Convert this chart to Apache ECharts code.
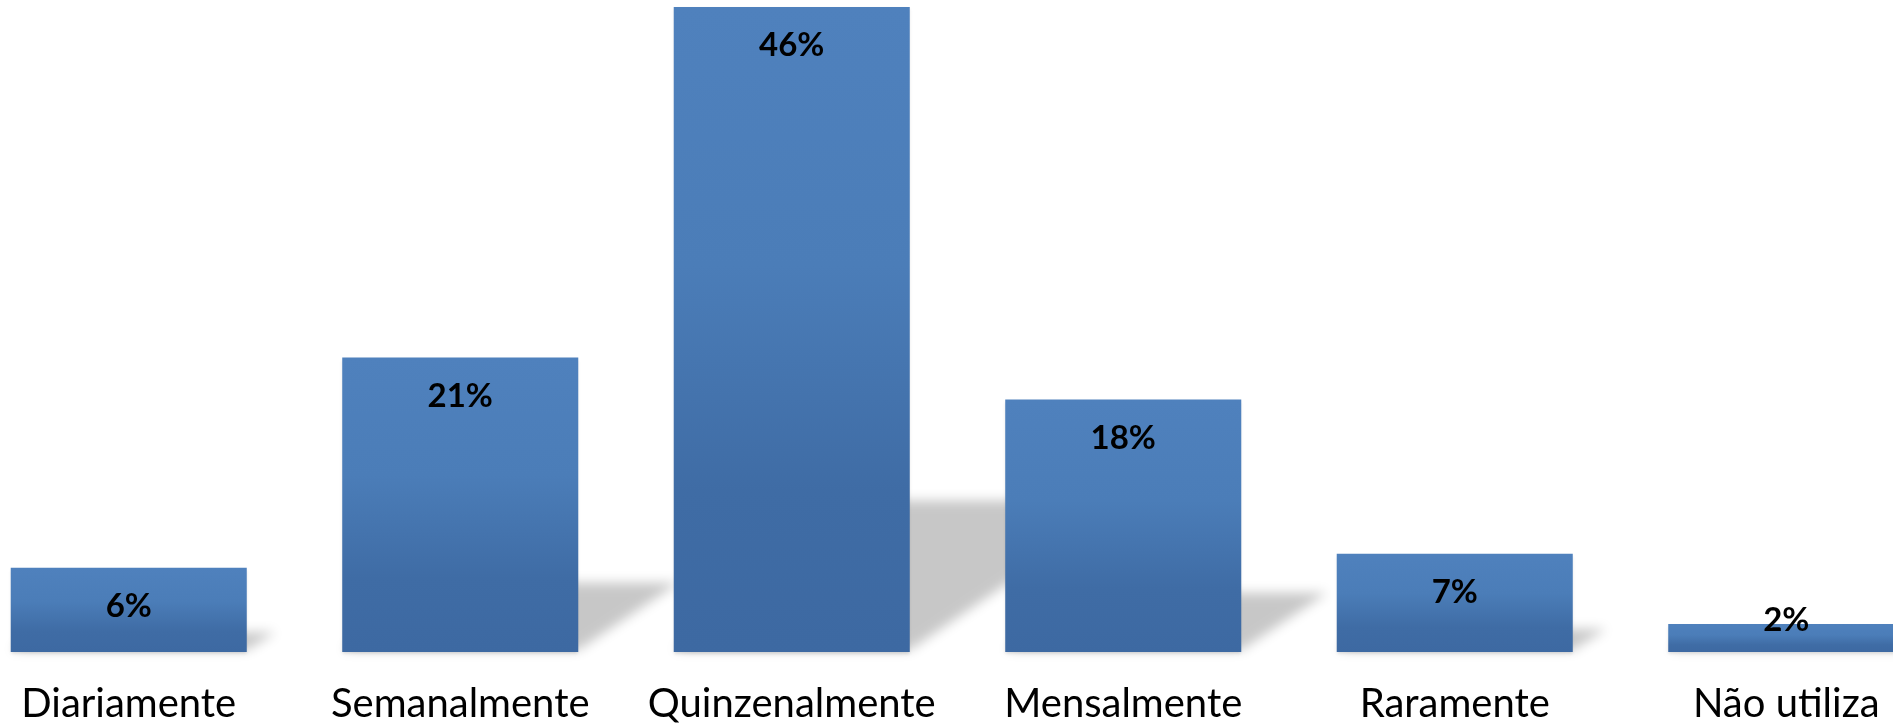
<!DOCTYPE html>
<html>
<head>
<meta charset="utf-8">
<script src="https://cdn.jsdelivr.net/npm/echarts@6/dist/echarts.min.js"></script>
<style>
html,body{margin:0;padding:0;background:#fff;overflow:hidden;width:1893px;height:725px;position:relative;}
#chart{position:absolute;left:-37px;top:0;width:1989px;height:725px;}
</style>
</head>
<body>
<div id="chart"></div>
<script>
const categories = ['Diariamente', 'Semanalmente', 'Quinzenalmente', 'Mensalmente', 'Raramente', 'Não utiliza'];
const values = [6, 21, 46, 18, 7, 2];
const valueLabels = ['6%', '21%', '46%', '18%', '7%', '2%'];

const BAR_RATIO = 0.712;
const OFF = 4000;

const chart = echarts.init(document.getElementById('chart'), null, {renderer: 'canvas'});

const barGradient = new echarts.graphic.LinearGradient(0, 0, 0, 1, [
  {offset: 0, color: '#4f81bd'},
  {offset: 0.4, color: '#4b7db8'},
  {offset: 0.75, color: '#3f6ca5'},
  {offset: 1, color: '#3d69a2'}
]);

const barData = values.map(function (v, i) {
  const item = {value: v};
  if (i === values.length - 1) {
    item.label = {offset: [0, -42]};
  }
  return item;
});

const shadowData = values.map(function (v, i) { return [i, v]; });

chart.setOption({
  animation: false,
  backgroundColor: '#ffffff',
  grid: {left: 0, right: 0, top: 7, bottom: 73, containLabel: false},
  xAxis: {
    type: 'category',
    data: categories,
    axisLine: {show: false},
    axisTick: {show: false},
    axisLabel: {
      color: '#000',
      fontFamily: 'Lato',
      fontSize: 40,
      margin: 32,
      interval: 0
    }
  },
  yAxis: {
    type: 'value',
    min: 0,
    max: 46,
    show: false,
    splitLine: {show: false}
  },
  series: [
    {
      type: 'custom',
      z: 1,
      clip: false,
      data: shadowData,
      renderItem: function (params, api) {
        const idx = api.value(0);
        const v = api.value(1);
        const base = api.coord([idx, 0]);
        const top = api.coord([idx, v]);
        const band = api.size([1, 0])[0];
        const hw = band * BAR_RATIO / 2;
        const h = (base[1] - top[1]) * 0.235;
        const shift = h * 1.45;
        return {
          type: 'polygon',
          shape: {
            points: [
              [base[0] - hw - OFF, base[1] - 2],
              [base[0] + hw - OFF, base[1] - 2],
              [base[0] + hw + shift - OFF, base[1] - h],
              [base[0] - hw + shift - OFF, base[1] - h]
            ]
          },
          style: {
            fill: '#000',
            shadowBlur: 12,
            shadowColor: 'rgba(0,0,0,0.22)',
            shadowOffsetX: OFF
          }
        };
      }
    },
    {
      type: 'bar',
      z: 2,
      data: barData,
      barWidth: (BAR_RATIO * 100) + '%',
      itemStyle: {
        color: barGradient,
        shadowColor: 'rgba(0,0,0,0.12)',
        shadowBlur: 3,
        shadowOffsetY: 2
      },
      label: {
        show: true,
        position: 'insideTop',
        distance: 22,
        color: '#000',
        fontFamily: 'Lato',
        fontWeight: 'bold',
        fontSize: 33,
        formatter: function (p) { return valueLabels[p.dataIndex]; }
      }
    }
  ]
});
</script>
</body>
</html>
